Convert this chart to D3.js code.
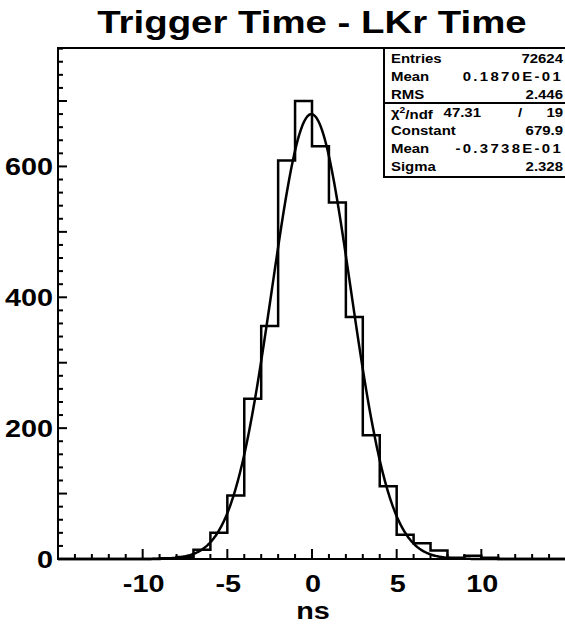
<!DOCTYPE html>
<html>
<head>
<title>Trigger Time - LKr Time</title>
<meta charset="utf-8" />
<script src="https://cdnjs.cloudflare.com/ajax/libs/d3/7.8.5/d3.min.js"></script>
<style>
	body {
		margin: 0;
		background: #ffffff;
	}
	#chart text {
		font-family: "Liberation Sans", Arial, sans-serif;
		font-weight: bold;
		fill: #000;
	}
</style>
</head>
<body>
<svg id="chart" width="565" height="626"></svg>
<script>
// histogram bins: 1 ns wide, left edges from -15 to 14
const binEdges = [-15, -14, -13, -12, -11, -10, -9, -8, -7, -6, -5, -4, -3, -2, -1,
	0, 1, 2, 3, 4, 5, 6, 7, 8, 9, 10, 11, 12, 13, 14, 15];
const binCounts = [0, 0, 0, 0, 0, 0, 1, 3, 14, 40, 97, 245, 356, 609, 700,
	631, 545, 370, 189, 111, 37, 24, 13, 2, 5, 2, 0, 0, 0, 0];

// gaussian fit parameters (from stats box)
const fitConstant = 679.9;
const fitMean = -0.03738;
const fitSigma = 2.328;

// stats box rows
const statLabels = ['Entries', 'Mean', 'RMS'];
const statValues = ['72624', '0.1870E-01', '2.446'];
const fitLabels = ['Constant', 'Mean', 'Sigma'];
const fitValues = ['679.9', '-0.3738E-01', '2.328'];
const chiValue = '47.31';
const ndfValue = '19';

// axis ticks
const xTickLabels = [-10, -5, 0, 5, 10];
const yTickLabels = [0, 200, 400, 600];

let svg = d3.select('#chart');

let plotLeft = 58, plotRight = 566, plotTop = 48, plotBottom = 559;

let x = d3.scaleLinear().domain([-15, 15]).range([plotLeft, plotRight]);
let y = d3.scaleLinear().domain([0, 781]).range([plotBottom, plotTop]);

// the original fonts are wide, so text is stretched horizontally
function wideText(parent, px, py, size, anchor, str, stretch) {
	let g = parent.append('g')
		.attr('transform', `translate(${px},${py}) scale(${stretch || 1.2},1)`);
	return g.append('text')
		.attr('text-anchor', anchor)
		.style('font-size', size + 'px')
		.text(str);
}

// title
wideText(svg, 312, 33, 32, 'middle', 'Trigger Time - LKr Time');

// frame
svg.append('rect')
	.attr('x', plotLeft)
	.attr('y', plotTop)
	.attr('width', plotRight - plotLeft)
	.attr('height', plotBottom - plotTop)
	.attr('fill', 'none')
	.attr('stroke', '#000')
	.attr('stroke-width', 2);

// y ticks (inside, on the left frame)
let yMinor = d3.range(0, 781, 20);
svg.append('g').selectAll('line')
	.data(yMinor)
	.enter()
	.append('line')
	.attr('x1', plotLeft)
	.attr('x2', d => plotLeft + (d % 100 == 0 ? 9 : 5))
	.attr('y1', d => y(d))
	.attr('y2', d => y(d))
	.attr('stroke', '#000')
	.attr('stroke-width', 2);

for (let v of yTickLabels) {
	wideText(svg, plotLeft - 5, y(v) + 8.5, 24, 'end', v);
}

// x ticks (inside, on the bottom frame)
let xMinor = d3.range(-14, 15, 1);
svg.append('g').selectAll('line')
	.data(xMinor)
	.enter()
	.append('line')
	.attr('x1', d => x(d))
	.attr('x2', d => x(d))
	.attr('y1', plotBottom)
	.attr('y2', d => plotBottom - (d % 5 == 0 ? 10 : 5))
	.attr('stroke', '#000')
	.attr('stroke-width', 2);

for (let v of xTickLabels) {
	wideText(svg, x(v) + 1, 592, 24, 'middle', v);
}

// x axis label
wideText(svg, 313, 619, 24, 'middle', 'ns');

// histogram outline
let histPoints = binCounts.map((c, i) => [binEdges[i], c]);
histPoints.push([binEdges[binEdges.length - 1], binCounts[binCounts.length - 1]]);
let histLine = d3.line()
	.x(d => x(d[0]))
	.y(d => y(d[1]))
	.curve(d3.curveStepAfter);
svg.append('path')
	.attr('d', histLine(histPoints))
	.attr('fill', 'none')
	.attr('stroke', '#000')
	.attr('stroke-width', 2.5);

// fitted gaussian
let fitX = d3.range(-15, 15.001, 0.05);
let fitLine = d3.line()
	.x(d => x(d))
	.y(d => y(fitConstant * Math.exp(-0.5 * Math.pow((d - fitMean) / fitSigma, 2))))
	.curve(d3.curveLinear);
svg.append('path')
	.attr('d', fitLine(fitX))
	.attr('fill', 'none')
	.attr('stroke', '#000')
	.attr('stroke-width', 2.5);

// stats box
let boxLeft = 384, boxBottom = 177, boxDivider = 103;
let box = svg.append('g');
box.append('rect')
	.attr('x', boxLeft)
	.attr('y', plotTop)
	.attr('width', plotRight - boxLeft)
	.attr('height', boxBottom - plotTop)
	.attr('fill', '#fff')
	.attr('stroke', '#000')
	.attr('stroke-width', 2);
box.append('line')
	.attr('x1', boxLeft)
	.attr('x2', plotRight)
	.attr('y1', boxDivider)
	.attr('y2', boxDivider)
	.attr('stroke', '#000')
	.attr('stroke-width', 2);

let rowY = [63, 81, 99, 117, 135, 153, 171];
let labelX = 391, valueX = 563;
let allLabels = statLabels.concat([''], fitLabels);
let allValues = statValues.concat([''], fitValues);

allLabels.forEach((s, i) => {
	if (s) wideText(box, labelX, rowY[i], 13, 'start', s, 1.15);
});
allValues.forEach((s, i) => {
	if (!s) return;
	let t = wideText(box, valueX, rowY[i], 13, 'end', s, 1.15);
	// exponent notation is drawn wider in the original
	if (s.indexOf('E') >= 0) t.style('letter-spacing', '2px');
});

// chi2 / ndf row
let chiRow = wideText(box, labelX, rowY[3], 13, 'start', '', 1.15);
chiRow.append('tspan').text('\u03c7');
chiRow.append('tspan').attr('dy', '-0.45em').style('font-size', '9px').text('2');
chiRow.append('tspan').attr('dy', '0.45em').text('/ndf');
wideText(box, 481, rowY[3], 13, 'end', chiValue, 1.15);
wideText(box, 520, rowY[3], 13, 'middle', '/', 1.15);
wideText(box, valueX, rowY[3], 13, 'end', ndfValue, 1.15);
</script>
</body>
</html>
